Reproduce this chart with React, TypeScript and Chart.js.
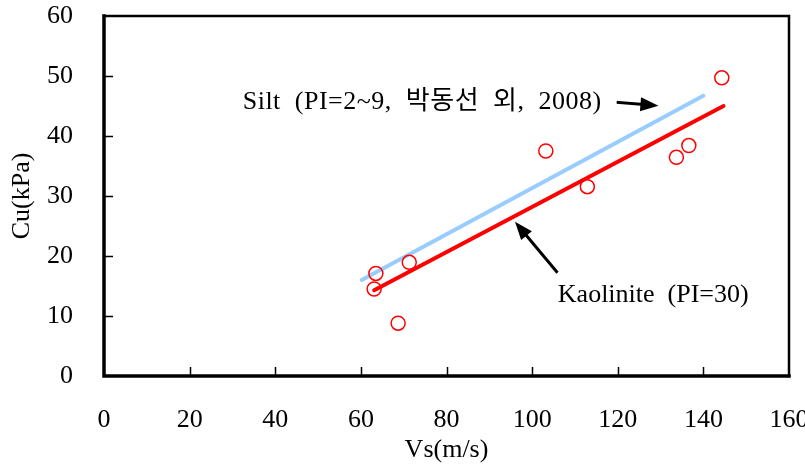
import { useEffect, useRef } from "react";
import { Chart, registerables } from "chart.js";

Chart.register(...registerables);

// Measured data (Vs in m/s, Cu in kPa)
const vsValues = [63.5, 63.1, 68.7, 71.3, 103.2, 112.9, 133.7, 136.6, 144.3];
const cuValues = [17.1, 14.5, 8.8, 18.95, 37.5, 31.55, 36.45, 38.4, 49.7];

// Regression lines
const siltLineX = [60.2, 140.0];
const siltLineY = [16.0, 46.7];
const kaoLineX = [63.1, 144.7];
const kaoLineY = [14.3, 45.0];

// Axis ticks
const xTickValues = [0, 20, 40, 60, 80, 100, 120, 140, 160];
const yTickValues = [0, 10, 20, 30, 40, 50, 60];

// Annotations (data coordinates)
const siltLabel = "Silt  (PI=2~9,  박동선  외,  2008)";
const siltLabelPos = [32.4, 45.7];
const siltArrow = [120.1, 45.6, 129.5, 45.05];
const kaoLabel = "Kaolinite  (PI=30)";
const kaoLabelPos = [106.0, 13.5];
const kaoArrow = [105.7, 17.4, 96.0, 25.7];

const FONT_FAMILY = '"Liberation Serif", "Times New Roman", "Noto Sans CJK KR", serif';
const FONT_SIZE = 26;

function drawArrow(ctx: CanvasRenderingContext2D, x1: number, y1: number, x2: number, y2: number) {
  const ang = Math.atan2(y2 - y1, x2 - x1);
  const headLen = 18;
  const headW = 7;
  const bx = x2 - headLen * Math.cos(ang);
  const by = y2 - headLen * Math.sin(ang);
  ctx.save();
  ctx.strokeStyle = "#000";
  ctx.fillStyle = "#000";
  ctx.lineWidth = 3;
  ctx.beginPath();
  ctx.moveTo(x1, y1);
  ctx.lineTo(bx + 2 * Math.cos(ang), by + 2 * Math.sin(ang));
  ctx.stroke();
  ctx.beginPath();
  ctx.moveTo(x2, y2);
  ctx.lineTo(bx + headW * Math.sin(ang), by - headW * Math.cos(ang));
  ctx.lineTo(bx - headW * Math.sin(ang), by + headW * Math.cos(ang));
  ctx.closePath();
  ctx.fill();
  ctx.restore();
}

const framePlugin = {
  id: "frameAndAnnotations",
  afterDraw(chart: any) {
    const { ctx, chartArea, scales } = chart;
    const xs = scales.x;
    const ys = scales.y;
    const { left, right, top, bottom } = chartArea;
    ctx.save();
    // inward ticks
    ctx.strokeStyle = "#000";
    ctx.lineWidth = 1.5;
    ctx.beginPath();
    for (const v of xTickValues) {
      if (v === xTickValues[0] || v === xTickValues[xTickValues.length - 1]) continue;
      const px = Math.round(xs.getPixelForValue(v)) + 0.5;
      ctx.moveTo(px, bottom);
      ctx.lineTo(px, bottom - 9);
    }
    for (const v of yTickValues) {
      if (v === yTickValues[0] || v === yTickValues[yTickValues.length - 1]) continue;
      const py = Math.round(ys.getPixelForValue(v)) + 0.5;
      ctx.moveTo(left, py);
      ctx.lineTo(left + 9, py);
    }
    ctx.stroke();
    // frame
    ctx.lineCap = "square";
    ctx.lineWidth = 2.5;
    ctx.beginPath();
    ctx.moveTo(left, top);
    ctx.lineTo(right, top);
    ctx.lineTo(right, bottom);
    ctx.stroke();
    ctx.lineWidth = 3.5;
    ctx.beginPath();
    ctx.moveTo(left, top);
    ctx.lineTo(left, bottom);
    ctx.lineTo(right, bottom);
    ctx.stroke();

    // annotations
    drawArrow(
      ctx,
      xs.getPixelForValue(siltArrow[0]),
      ys.getPixelForValue(siltArrow[1]),
      xs.getPixelForValue(siltArrow[2]),
      ys.getPixelForValue(siltArrow[3])
    );
    drawArrow(
      ctx,
      xs.getPixelForValue(kaoArrow[0]),
      ys.getPixelForValue(kaoArrow[1]),
      xs.getPixelForValue(kaoArrow[2]),
      ys.getPixelForValue(kaoArrow[3])
    );
    ctx.fillStyle = "#000";
    ctx.font = `${FONT_SIZE}px ${FONT_FAMILY}`;
    ctx.textBaseline = "middle";
    ctx.textAlign = "left";
    try {
      (ctx as any).letterSpacing = "0.5px";
    } catch (e) {}
    ctx.fillText(siltLabel, xs.getPixelForValue(siltLabelPos[0]), ys.getPixelForValue(siltLabelPos[1]));
    try {
      (ctx as any).letterSpacing = "0px";
    } catch (e) {}
    ctx.fillText(kaoLabel, xs.getPixelForValue(kaoLabelPos[0]), ys.getPixelForValue(kaoLabelPos[1]));
    ctx.restore();
  },
};

export default function App() {
  const canvasRef = useRef<HTMLCanvasElement | null>(null);

  useEffect(() => {
    document.body.style.margin = "0";
    const canvas = canvasRef.current;
    if (!canvas) return;

    const points = vsValues.map((v, i) => ({ x: v, y: cuValues[i] }));
    const silt = siltLineX.map((v, i) => ({ x: v, y: siltLineY[i] }));
    const kao = kaoLineX.map((v, i) => ({ x: v, y: kaoLineY[i] }));

    const chart = new Chart(canvas, {
      type: "scatter",
      data: {
        datasets: [
          {
            label: "Measured",
            data: points,
            pointStyle: "circle",
            pointRadius: 7,
            pointBorderWidth: 1.5,
            pointBorderColor: "#ff0000",
            pointBackgroundColor: "rgba(0,0,0,0)",
            showLine: false,
          },
          {
            label: "Kaolinite",
            data: kao,
            showLine: true,
            borderColor: "#ff0000",
            borderWidth: 4,
            pointRadius: 0,
            borderCapStyle: "round",
          },
          {
            label: "Silt",
            data: silt,
            showLine: true,
            borderColor: "#99ccff",
            borderWidth: 4,
            pointRadius: 0,
            borderCapStyle: "round",
          },
        ],
      },
      options: {
        animation: false,
        responsive: false,
        maintainAspectRatio: false,
        layout: { padding: { left: 0, right: 16, top: 16, bottom: 0 } },
        plugins: {
          legend: { display: false },
          tooltip: { enabled: false },
        },
        scales: {
          x: {
            type: "linear",
            min: 0,
            max: 160,
            grid: { display: false, drawTicks: false },
            border: { display: false },
            afterBuildTicks: (scale: any) => {
              scale.ticks = xTickValues.map((v) => ({ value: v }));
            },
            afterFit: (scale: any) => {
              scale.height = 88;
              scale.paddingLeft = 0;
              scale.paddingRight = 0;
            },
            ticks: {
              autoSkip: false,
              maxRotation: 0,
              padding: 29,
              color: "#000",
              font: { family: FONT_FAMILY, size: FONT_SIZE },
            },
            title: {
              display: true,
              text: "Vs(m/s)",
              color: "#000",
              font: { family: FONT_FAMILY, size: FONT_SIZE, lineHeight: 1.1 },
              padding: { top: 0, bottom: 0 },
            },
          },
          y: {
            type: "linear",
            min: 0,
            max: 60,
            grid: { display: false, drawTicks: false },
            border: { display: false },
            afterBuildTicks: (scale: any) => {
              scale.ticks = yTickValues.map((v) => ({ value: v }));
            },
            afterFit: (scale: any) => {
              scale.width = 104;
              scale.paddingTop = 0;
              scale.paddingBottom = 0;
            },
            ticks: {
              autoSkip: false,
              padding: 31,
              color: "#000",
              font: { family: FONT_FAMILY, size: FONT_SIZE },
            },
            title: {
              display: true,
              text: "Cu(kPa)",
              color: "#000",
              font: { family: FONT_FAMILY, size: FONT_SIZE, lineHeight: 1.1 },
              padding: { top: 8, bottom: 0 },
            },
          },
        },
      },
      plugins: [framePlugin],
    });

    return () => {
      chart.destroy();
    };
  }, []);

  return (
    <div style={{ position: "relative", width: 805, height: 464 }}>
      <canvas ref={canvasRef} width={805} height={464} style={{ display: "block", width: 805, height: 464 }} />
    </div>
  );
}
